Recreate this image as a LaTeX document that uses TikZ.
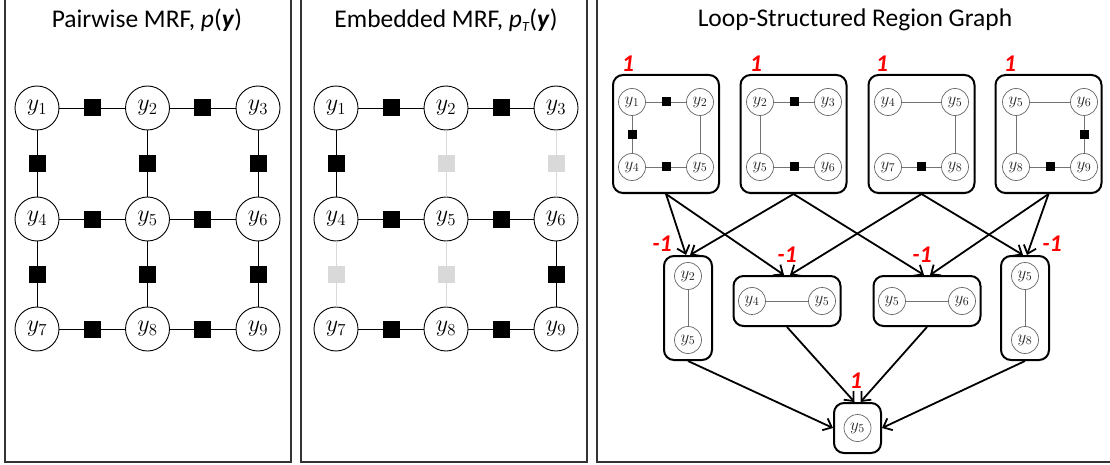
\documentclass[tikz,border=0pt]{standalone}
\usepackage{fix-cm}
\usepackage[no-math]{fontspec}
\setmainfont{Carlito}
\usetikzlibrary{arrows.meta,calc}

\begin{document}
\begin{tikzpicture}[x=1pt,y=-1pt,
  panel/.style={draw=black!80,line width=1.3pt},
  title/.style={font=\fontsize{25.5}{25.5}\selectfont,anchor=center},
  var/.style={circle,draw,line width=0.9pt,minimum size=44pt,inner sep=0pt,font=\fontsize{24}{24}\selectfont},
  fac/.style={rectangle,fill=black,minimum size=17pt,inner sep=0pt},
  ghostfac/.style={rectangle,fill=black!15,minimum size=17pt,inner sep=0pt},
  edge/.style={line width=0.8pt},
  ghost/.style={line width=0.8pt,draw=black!15},
  region/.style={draw,rounded corners=10pt,line width=2pt,inner sep=0pt},
  svar/.style={circle,draw=black!60,line width=0.7pt,minimum size=27pt,inner sep=0pt,font=\fontsize{17}{17}\selectfont,text=black!85},
  sfac/.style={rectangle,fill=black,minimum size=9pt,inner sep=0pt},
  sedge/.style={draw=black!55,line width=0.8pt},
  count/.style={text=red,font=\fontsize{24}{24}\selectfont\bfseries\itshape},
  flow/.style={line width=1.8pt,-{Straight Barb[length=7.5pt,width=13pt]}},
]
\useasboundingbox (0,0) rectangle (1110,465);
\clip (0,0) rectangle (1110,465);

% panel frames
\draw[panel] (5,-10) rectangle (291,462);
\draw[panel] (301,-10) rectangle (587,462);
\draw[panel] (597,-10) rectangle (1120,462);

% titles
\node[title] (t1) at (147,20) {Pairwise MRF, \textit{p}(\textbf{\textit{y}})};
\node[title] (t2) at (446,20) {Embedded MRF, \textit{p}\raisebox{-0.35ex}{\fontsize{14}{14}\selectfont\textit{T}}(\textbf{\textit{y}})};
\node[title] (t3) at (855,20) {Loop-Structured Region Graph};

% pairwise grid
\foreach \n/\x/\y in {1/37/108,2/147.5/108,3/258/108,4/37/219,5/147.5/219,6/258/219,7/37/329,8/147.5/329,9/258/329}
  \node[var] (a\n) at (\x,\y) {$y_{\n}$};
\foreach \s/\t in {1/2,2/3,4/5,5/6,7/8,8/9,1/4,2/5,3/6,4/7,5/8,6/9}
  \draw[edge] (a\s) -- node[fac] (fa\s\t) {} (a\t);

% embedded tree
\foreach \n/\x/\y in {1/336/108,2/446/108,3/556/108,4/336/219,5/446/219,6/556/219,7/336/329,8/446/329,9/556/329}
  \node[var] (b\n) at (\x,\y) {$y_{\n}$};
\foreach \s/\t in {1/2,2/3,4/5,5/6,7/8,8/9,1/4,6/9}
  \draw[edge] (b\s) -- node[fac] (fb\s\t) {} (b\t);
\foreach \s/\t in {2/5,3/6,4/7,5/8}
  \draw[ghost] (b\s) -- node[ghostfac] (fb\s\t) {} (b\t);

% top regions
\node[region,minimum width=106pt,minimum height=118pt] (r1) at (666,134) {};
\node[region,minimum width=106pt,minimum height=118pt] (r2) at (793.5,134) {};
\node[region,minimum width=106pt,minimum height=118pt] (r3) at (921.5,134) {};
\node[region,minimum width=106pt,minimum height=118pt] (r4) at (1048.5,134) {};

\node[svar] (r1a) at (632,102) {$y_1$};
\node[svar] (r1b) at (700,102) {$y_2$};
\node[svar] (r1c) at (632,167) {$y_4$};
\node[svar] (r1d) at (700,167) {$y_5$};
\draw[sedge] (r1a) -- node[sfac] (s1ab) {} (r1b);
\draw[sedge] (r1a) -- node[sfac] (s1ac) {} (r1c);
\draw[sedge] (r1c) -- node[sfac] (s1cd) {} (r1d);
\draw[sedge] (r1b) -- (r1d);

\node[svar] (r2a) at (760,102) {$y_2$};
\node[svar] (r2b) at (828,102) {$y_3$};
\node[svar] (r2c) at (760,167) {$y_5$};
\node[svar] (r2d) at (828,167) {$y_6$};
\draw[sedge] (r2a) -- node[sfac] (s2ab) {} (r2b);
\draw[sedge] (r2c) -- node[sfac] (s2cd) {} (r2d);
\draw[sedge] (r2a) -- (r2c);

\node[svar] (r3a) at (888,102) {$y_4$};
\node[svar] (r3b) at (955,102) {$y_5$};
\node[svar] (r3c) at (888,167) {$y_7$};
\node[svar] (r3d) at (955,167) {$y_8$};
\draw[sedge] (r3a) -- (r3b);
\draw[sedge] (r3b) -- (r3d);
\draw[sedge] (r3c) -- node[sfac] (s3cd) {} (r3d);

\node[svar] (r4a) at (1016,102) {$y_5$};
\node[svar] (r4b) at (1084,102) {$y_6$};
\node[svar] (r4c) at (1016,167) {$y_8$};
\node[svar] (r4d) at (1084,167) {$y_9$};
\draw[sedge] (r4a) -- (r4b);
\draw[sedge] (r4a) -- (r4c);
\draw[sedge] (r4b) -- node[sfac] (s4bd) {} (r4d);
\draw[sedge] (r4c) -- node[sfac] (s4cd) {} (r4d);

% intersection regions
\node[region,minimum width=48pt,minimum height=104pt] (m1) at (688,308) {};
\node[region,minimum width=107pt,minimum height=50pt] (m2) at (787,301) {};
\node[region,minimum width=107pt,minimum height=50pt] (m3) at (927,301) {};
\node[region,minimum width=48pt,minimum height=104pt] (m4) at (1025,308) {};
\node[region,minimum width=47pt,minimum height=50pt] (bt) at (857.5,428) {};

\node[svar] (m1a) at (688,276) {$y_2$};
\node[svar] (m1b) at (688,340) {$y_5$};
\draw[sedge] (m1a) -- (m1b);
\node[svar] (m2a) at (752,301) {$y_4$};
\node[svar] (m2b) at (822,301) {$y_5$};
\draw[sedge] (m2a) -- (m2b);
\node[svar] (m3a) at (892,301) {$y_5$};
\node[svar] (m3b) at (962,301) {$y_6$};
\draw[sedge] (m3a) -- (m3b);
\node[svar] (m4a) at (1025,276) {$y_5$};
\node[svar] (m4b) at (1025,340) {$y_8$};
\draw[sedge] (m4a) -- (m4b);
\node[svar] (bta) at (857.5,428) {$y_5$};

% counting numbers
\node[count] (c1) at (628,64) {1};
\node[count] (c2) at (756,64) {1};
\node[count] (c3) at (882,64) {1};
\node[count] (c4) at (1010,64) {1};
\node[count] (c5) at (662,244) {-1};
\node[count] (c6) at (787,255) {-1};
\node[count] (c7) at (922,255) {-1};
\node[count] (c8) at (1052,244) {-1};
\node[count] (c9) at (856,381) {1};

% parent-to-child edges
\draw[flow] (r1.south) -- ($(m1.north)+(-2,0)$);
\draw[flow] (r1.south) -- ($(m2.north)+(-3,0)$);
\draw[flow] (r2.south) -- ($(m1.north)+(2,0)$);
\draw[flow] (r2.south) -- ($(m3.north)+(-3,0)$);
\draw[flow] (r3.south) -- ($(m2.north)+(3,0)$);
\draw[flow] (r3.south) -- ($(m4.north)+(-2,0)$);
\draw[flow] (r4.south) -- ($(m3.north)+(3,0)$);
\draw[flow] (r4.south) -- ($(m4.north)+(2,0)$);
\draw[flow] (m1.south) -- (bt.west);
\draw[flow] (m2.south) -- ($(bt.north)+(-3,0)$);
\draw[flow] (m3.south) -- ($(bt.north)+(3,0)$);
\draw[flow] (m4.south) -- (bt.east);
\end{tikzpicture}
\end{document}
